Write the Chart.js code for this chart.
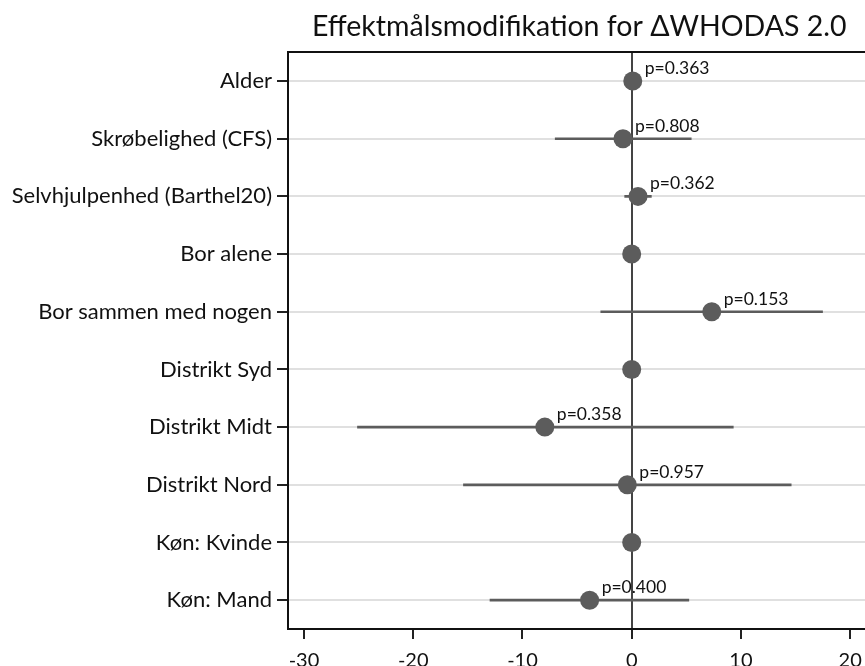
<!DOCTYPE html>
<html>
<head>
<meta charset="utf-8">
<script src="https://cdn.jsdelivr.net/npm/chart.js@4/dist/chart.umd.min.js"></script>
<style>
  html, body { margin: 0; padding: 0; background: #fff; overflow: hidden; }
  #wrap { width: 880px; height: 683px; }
</style>
</head>
<body>
<div id="wrap"><canvas id="c" width="880" height="683"></canvas></div>
<script>
// Effect modifiers, estimate and 95% CI for change in WHODAS 2.0
const categories = [
  'Alder',
  'Skrøbelighed (CFS)',
  'Selvhjulpenhed (Barthel20)',
  'Bor alene',
  'Bor sammen med nogen',
  'Distrikt Syd',
  'Distrikt Midt',
  'Distrikt Nord',
  'Køn: Kvinde',
  'Køn: Mand'
];
const estimates = [0.1, -0.8, 0.58, 0, 7.33, 0, -7.95, -0.4, 0, -3.85];
const ciLower   = [-0.2, -7.0, -0.64, null, -2.83, null, -25.1, -15.4, null, -12.97];
const ciUpper   = [0.4, 5.45, 1.8, null, 17.47, null, 9.3, 14.6, null, 5.23];
const pValues   = ['p=0.363', 'p=0.808', 'p=0.362', null, 'p=0.153', null, 'p=0.358', 'p=0.957', null, 'p=0.400'];
const xTicks    = [-30, -20, -10, 0, 10, 20];

const FONT = 'Lato, "Open Sans", sans-serif';
const markColor = '#5c5c5c';

const ciRanges = categories.map((_, i) =>
  ciLower[i] === null ? null : [ciLower[i], ciUpper[i]]);

// p-value annotations next to each estimate
const pLabelPlugin = {
  id: 'pLabels',
  afterDatasetsDraw(chart) {
    const { ctx, scales } = chart;
    ctx.save();
    ctx.font = '17.5px ' + FONT;
    ctx.fillStyle = '#111';
    ctx.textAlign = 'left';
    ctx.textBaseline = 'alphabetic';
    pValues.forEach((txt, i) => {
      if (!txt) return;
      const x = scales.x.getPixelForValue(estimates[i]) + 12;
      const y = scales.y.getPixelForValue(i) - 7;
      ctx.fillText(txt, x, y);
    });
    ctx.restore();
  }
};

new Chart(document.getElementById('c'), {
  type: 'bar',
  data: {
    labels: categories,
    datasets: [
      {
        label: '95% CI',
        data: ciRanges,
        backgroundColor: markColor,
        borderWidth: 0,
        barThickness: 2,
        xAxisID: 'x',
        yAxisID: 'y',
        order: 2
      },
      {
        type: 'line',
        label: 'Estimat',
        data: estimates,
        indexAxis: 'y',
        showLine: false,
        pointRadius: 9.5,
        pointHoverRadius: 9.5,
        pointBackgroundColor: markColor,
        pointBorderWidth: 0,
        xAxisID: 'x',
        yAxisID: 'y',
        order: 1
      }
    ]
  },
  options: {
    indexAxis: 'y',
    responsive: false,
    animation: false,
    events: [],
    layout: { padding: { left: 0, right: 0, top: 0, bottom: 0 } },
    plugins: {
      legend: { display: false },
      tooltip: { enabled: false },
      title: {
        display: true,
        text: 'Effektmålsmodifikation for ΔWHODAS 2.0',
        fullSize: false,
        color: '#111',
        font: { family: FONT, size: 28.5, weight: 'normal' },
        padding: { top: 10, bottom: 8 }
      }
    },
    scales: {
      x: {
        type: 'linear',
        position: 'bottom',
        min: -31.46,
        max: 21.86,
        z: 1,
        afterBuildTicks(scale) { scale.ticks = xTicks.map(v => ({ value: v })); },
        ticks: {
          color: '#111',
          font: { family: FONT, size: 20 },
          padding: 10,
          maxRotation: 0
        },
        grid: {
          color: c => (c.tick && c.tick.value === 0) ? '#444' : 'rgba(0,0,0,0)',
          lineWidth: 2,
          tickColor: '#222',
          tickLength: 10,
          tickWidth: 2
        },
        border: { display: true, color: '#111', width: 2 }
      },
      x2: {
        type: 'linear',
        position: 'top',
        min: -31.46,
        max: 21.86,
        ticks: { display: false },
        grid: { display: false, drawTicks: false },
        border: { display: true, color: '#111', width: 2 }
      },
      y: {
        type: 'category',
        offset: true,
        z: -1,
        afterFit(scale) { scale.width = 288; },
        ticks: {
          color: '#111',
          font: { family: FONT, size: 22 },
          padding: 5
        },
        grid: {
          offset: false,
          color: '#e0e0e0',
          lineWidth: 2,
          tickColor: '#222',
          tickLength: 11,
          tickWidth: 2
        },
        border: { display: true, color: '#111', width: 2 }
      }
    }
  },
  plugins: [pLabelPlugin]
});
</script>
</body>
</html>
